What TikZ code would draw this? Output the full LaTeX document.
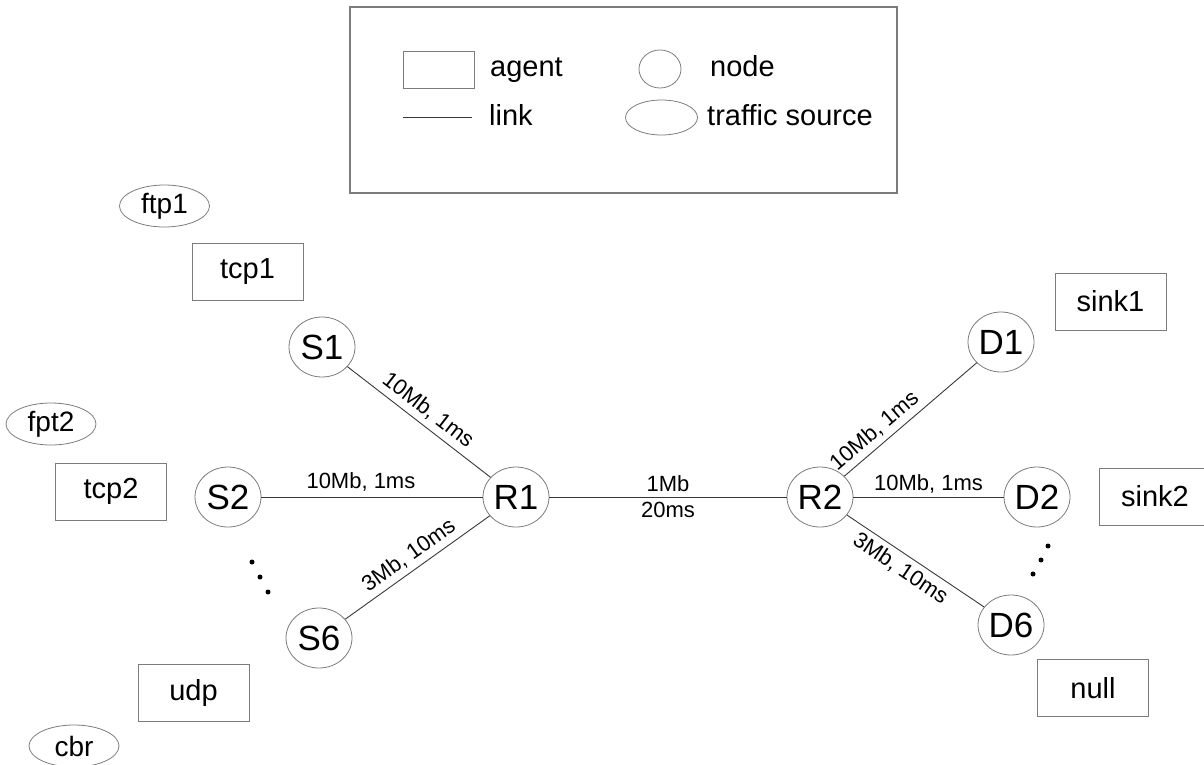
\documentclass[tikz,border=0pt]{standalone}
\usepackage{fontspec}
\setmainfont{Liberation Sans}
\usetikzlibrary{shapes.geometric}
\newcommand\fsz[1]{\fontsize{#1}{#1}\selectfont}
\definecolor{outline}{HTML}{7C7C7C}
\definecolor{linkc}{HTML}{383838}

\begin{document}
\begin{tikzpicture}[x=1pt,y=-1pt,
  netnode/.style={ellipse,draw=outline,line width=0.8pt,minimum width=66pt,minimum height=60pt,inner sep=0pt,font=\fsz{35}},
  agentbox/.style={rectangle,draw=outline,line width=0.8pt,minimum width=111pt,minimum height=57pt,inner sep=0pt,font=\fsz{29}},
  srcoval/.style={ellipse,draw=outline,line width=0.8pt,minimum width=90pt,minimum height=42pt,inner sep=0pt,font=\fsz{28}},
  link/.style={draw=linkc,line width=0.9pt},
  linklabel/.style={font=\fsz{22},inner sep=5pt},
  dotmark/.style={circle,fill=black,minimum size=5pt,inner sep=0pt},
  legendtext/.style={anchor=base west,font=\fsz{29},inner sep=0pt}]
\useasboundingbox (0,0) rectangle (1204,765);

% legend
\node[draw=outline,line width=1.2pt,rectangle,minimum width=547pt,minimum height=186pt,inner sep=0pt] (legend) at (623.5,100) {};
\node[rectangle,draw=outline,line width=0.8pt,minimum width=71pt,minimum height=37pt,inner sep=0pt] (lgagent) at (438.5,69.5) {};
\node[legendtext] (lgagenttxt) at (490,77) {agent};
\node[ellipse,draw=outline,line width=0.8pt,minimum width=42pt,minimum height=38pt,inner sep=0pt] (lgnode) at (660,69) {};
\node[legendtext] (lgnodetxt) at (710,77) {node};
\coordinate (lglinka) at (403,117);
\coordinate (lglinkb) at (472,117);
\draw[link] (lglinka) -- (lglinkb);
\node[legendtext] (lglinktxt) at (489,126) {link};
\node[ellipse,draw=outline,line width=0.8pt,minimum width=72pt,minimum height=35pt,inner sep=0pt] (lgsrc) at (661.5,117.5) {};
\node[legendtext] (lgsrctxt) at (707,126) {traffic source};

% network nodes
\node[netnode] (S1) at (322,347) {S1};
\node[netnode] (S2) at (228,497) {S2};
\node[netnode] (S6) at (319,638) {S6};
\node[netnode] (R1) at (516,497) {R1};
\node[netnode] (R2) at (820,497) {R2};
\node[netnode] (D1) at (1001,342) {D1};
\node[netnode] (D2) at (1037,497) {D2};
\node[netnode] (D6) at (1011,625) {D6};

% agents
\node[agentbox] (tcp1) at (247.5,271.5) {tcp1};
\node[agentbox] (tcp2) at (111,491.5) {tcp2};
\node[agentbox] (udp) at (193.5,693) {udp};
\node[agentbox] (sink1) at (1110.5,301.5) {sink1};
\node[agentbox] (sink2) at (1155,496.5) {sink2};
\node[agentbox] (null) at (1093,688) {null};

% traffic sources
\node[srcoval] (ftp1) at (164.5,206) {ftp1};
\node[srcoval] (fpt2) at (51,424) {fpt2};
\node[srcoval] (cbr) at (74,746) {cbr};

% links
\draw[link] (S1) -- node[linklabel,sloped,above,pos=0.5] {10Mb, 1ms} (R1);
\draw[link] (S2) -- node[linklabel,above,pos=0.45] {10Mb, 1ms} (R1);
\draw[link] (S6) -- node[linklabel,sloped,above,pos=0.5] {3Mb, 10ms} (R1);
\draw[link] (R1) -- node[linklabel,above] {1Mb} node[linklabel,below] {20ms} (R2);
\draw[link] (R2) -- node[linklabel,sloped,above,pos=0.3] {10Mb, 1ms} (D1);
\draw[link] (R2) -- node[linklabel,above,inner sep=3pt] {10Mb, 1ms} (D2);
\draw[link] (R2) -- node[linklabel,sloped,below,pos=0.45] {3Mb, 10ms} (D6);

% ellipsis dots
\node[dotmark] (ldot1) at (252,562) {};
\node[dotmark] (ldot2) at (260,577) {};
\node[dotmark] (ldot3) at (268,592) {};
\node[dotmark] (rdot1) at (1048,546) {};
\node[dotmark] (rdot2) at (1041,560) {};
\node[dotmark] (rdot3) at (1033,574) {};
\end{tikzpicture}
\end{document}
